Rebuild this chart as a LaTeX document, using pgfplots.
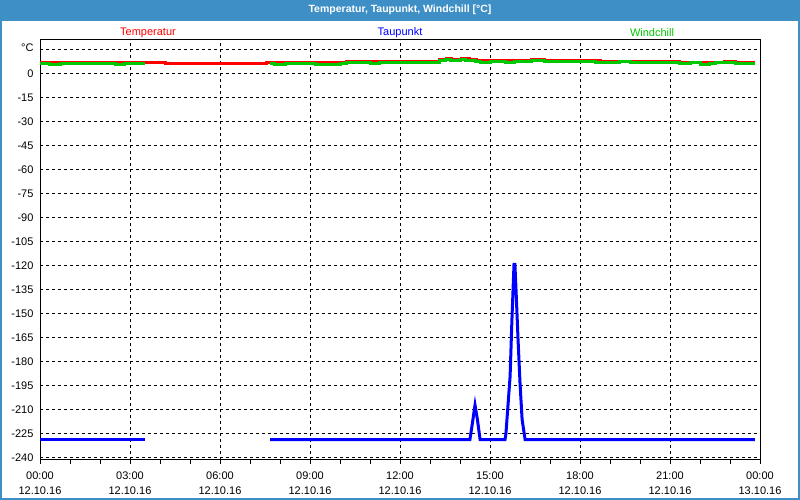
\documentclass[border=0pt]{standalone}
\usepackage{pgfplots}
\pgfplotsset{compat=1.18}
\usepackage{fontspec}
\setmainfont{Liberation Sans}
\definecolor{barblue}{HTML}{3D8FC6}
\definecolor{wgreen}{HTML}{00C800}
\begin{document}
\begin{tikzpicture}
\useasboundingbox (0pt,0pt) rectangle (800pt,500pt);
\fill[white] (0pt,0pt) rectangle (800pt,500pt);
\fill[barblue] (0pt,479pt) rectangle (800pt,500pt);
\draw[barblue,line width=2pt] (1pt,1pt) rectangle (799pt,499pt);
\node[white,font=\fontsize{10.5}{12}\selectfont\bfseries] at (400pt,490pt) {Temperatur, Taupunkt, Windchill [°C]};
\node[red,font=\fontsize{11}{13}\selectfont] at (148pt,467pt) {Temperatur};
\node[blue,font=\fontsize{11}{13}\selectfont] at (400pt,467pt) {Taupunkt};
\node[wgreen,font=\fontsize{11}{13}\selectfont] at (652pt,467pt) {Windchill};
\begin{axis}[
  at={(40pt,40pt)}, anchor=south west,
  scale only axis, width=720pt, height=420pt,
  xmin=0, xmax=24, ymin=-241.3, ymax=21.2,
  axis line style={black, line width=1pt},
  xtick={0,3,...,24},
  minor xtick={1,2,4,5,7,8,10,11,13,14,16,17,19,20,22,23},
  xticklabels={00:00\\12.10.16,03:00\\12.10.16,06:00\\12.10.16,09:00\\12.10.16,12:00\\12.10.16,15:00\\12.10.16,18:00\\12.10.16,21:00\\12.10.16,00:00\\13.10.16},
  xticklabel style={align=center, font=\fontsize{11}{15}\selectfont, yshift=-4pt},
  ytick={-240,-225,...,15},
  yticklabels={-240,-225,-210,-195,-180,-165,-150,-135,-120,-105,-90,-75,-60,-45,-30,-15,0,\raisebox{4pt}{°C}},
  yticklabel style={font=\fontsize{11}{13}\selectfont, xshift=1pt},
  xtick pos=bottom, ytick pos=left,
  tick align=outside,
  x tick style={black, line width=1pt},
  y tick style={draw=none},
  major tick length=4pt, minor tick length=4pt,
  minor x tick style={black, line width=1pt},
  grid=major,
  major grid style={black, line width=1pt, dash pattern=on 3pt off 3pt},
  clip=true,
]
% Taupunkt
\addplot[blue, line width=3pt] coordinates {(0,-228.5) (3.5,-228.5)};
\addplot[blue, line width=3pt] coordinates {
(7.67,-228.5) (14.33,-228.5) (14.4,-220) (14.5,-207) (14.58,-216) (14.67,-228.5)
(15.5,-228.5) (15.53,-225) (15.6,-207) (15.67,-189) (15.73,-154) (15.8,-119)
(15.83,-119) (15.87,-136) (15.93,-164) (16.0,-193) (16.07,-216) (16.17,-228.5)
(23.83,-228.5)};
% Temperatur
\addplot[red, line width=3pt, const plot] coordinates {
(0,6.9) (4.17,6.25) (7.56,7.2) (7.67,6.9) (10.2,7.5) (12.56,7.9) (13.33,8.75)
(13.56,9.6) (13.72,8.9) (14.06,9.6) (14.33,8.75) (14.56,8.1) (16.39,8.75)
(16.83,8.3) (18.67,7.7) (21.33,7.2) (21.83,6.9) (22.83,7.7) (23.17,7.1) (23.83,7.1)};
% Windchill
\addplot[wgreen, line width=3pt, const plot] coordinates {
(0,6.25) (0.33,5.8) (0.67,6.4) (2.5,5.8) (2.83,6.4) (3.5,6.4)};
\addplot[wgreen, line width=3pt, const plot] coordinates {
(7.67,6.4) (7.83,5.8) (8.17,6.4) (9.17,5.8) (10,6.4) (10.22,7.1) (11,6.4)
(11.33,7.1) (12,7.3) (13.33,8.1) (13.5,8.75) (13.67,8.3) (14,8.75) (14.17,8.1)
(14.5,7.5) (14.67,7.1) (15,7.5) (15.5,6.9) (15.83,7.5) (16.39,8.1) (16.83,7.5)
(18.5,6.9) (19.33,7.5) (19.67,7.1) (21.33,6.25) (21.67,7.1) (22,5.8) (22.33,6.25)
(22.5,6.9) (23.17,6.4) (23.83,6.4)};
\end{axis}
\end{tikzpicture}
\end{document}
